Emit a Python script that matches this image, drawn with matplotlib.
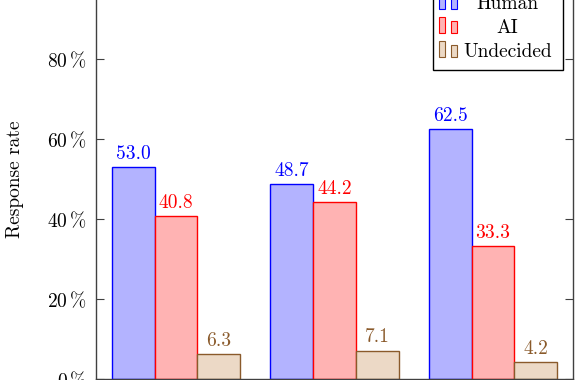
import matplotlib
matplotlib.use("Agg")
import matplotlib.pyplot as plt
import matplotlib.patches as patches
import numpy as np

# data (response rate in %)
groups = ["Group 1", "Group 2", "Group 3"]  # x labels fall outside the crop
series_names = ["Human", "AI", "Undecided"]
human = [53.0, 48.7, 62.5]
ai = [40.8, 44.2, 33.3]
undecided = [6.3, 7.1, 4.2]
y_ticks = [0, 20, 40, 60, 80]

fills = ["#b3b3ff", "#ffb3b3", "#ecd9c6"]
edges = ["#0000ff", "#ff0000", "#8a5a2b"]

plt.rcParams["font.family"] = "cmr10"
plt.rcParams["mathtext.fontset"] = "cm"
plt.rcParams["axes.formatter.use_mathtext"] = True
FS = 14

W, H = 577, 380
fig = plt.figure(figsize=(W / 100, H / 100), dpi=100)

def fx(px):
    return px / W

def fy(py):
    # py measured from the top of the image
    return 1 - py / H

# axes frame in pixels: left 96, right 573, y=0 at 379, y=100 at -21
ax = fig.add_axes([fx(96), fy(379), fx(573) - fx(96), 400 / H])

x = np.arange(len(groups))
bw = 0.27
for i, vals in enumerate([human, ai, undecided]):
    pos = x + (i - 1) * bw
    bars = ax.bar(pos, vals, bw, color=fills[i], edgecolor=edges[i], linewidth=1.0,
                  label=series_names[i], zorder=2)
    for b, v in zip(bars, vals):
        ax.annotate(f"{v:.1f}", (b.get_x() + b.get_width() / 2, v),
                    xytext=(0, 3), textcoords="offset points",
                    ha="center", va="bottom", color=edges[i], fontsize=FS)

ax.set_xlim(-0.505, 2.505)
ax.set_ylim(0, 100)
ax.set_xticks(x)
ax.set_xticklabels([])
ax.set_yticks(y_ticks)
ax.set_yticklabels([f"${t}\\,\\%$" for t in y_ticks], fontsize=FS)
ax.tick_params(axis="both", direction="in", length=6, width=0.8, color="#404040",
               top=True, right=True, pad=7)
for s in ax.spines.values():
    s.set_color("#404040")
    s.set_linewidth(1.0)

ax.set_ylabel("Response rate", fontsize=FS)
ax.yaxis.set_label_coords((15 - 96) / 477, 0.5)
ax.yaxis.label.set_va("center")

# legend box (pgfplots style, two small bars per entry, centered text)
box = patches.Rectangle((fx(433), fy(70)), fx(563) - fx(433), fy(-30) - fy(70),
                        transform=fig.transFigure, facecolor="white",
                        edgecolor="black", linewidth=1.0, zorder=5)
fig.patches.append(box)
row_y = [4, 28, 52]
for i, name in enumerate(series_names):
    cy = row_y[i]
    for x0, h in [(439, 16), (451, 12)]:
        r = patches.Rectangle((fx(x0), fy(cy + 5)), fx(6), h / H,
                              transform=fig.transFigure, facecolor=fills[i],
                              edgecolor=edges[i], linewidth=0.8, zorder=6)
        fig.patches.append(r)
    fig.text(fx(507.5), fy(cy), name, ha="center", va="center", fontsize=FS,
             color="black", zorder=7)

fig.savefig("out.png", dpi=100)
